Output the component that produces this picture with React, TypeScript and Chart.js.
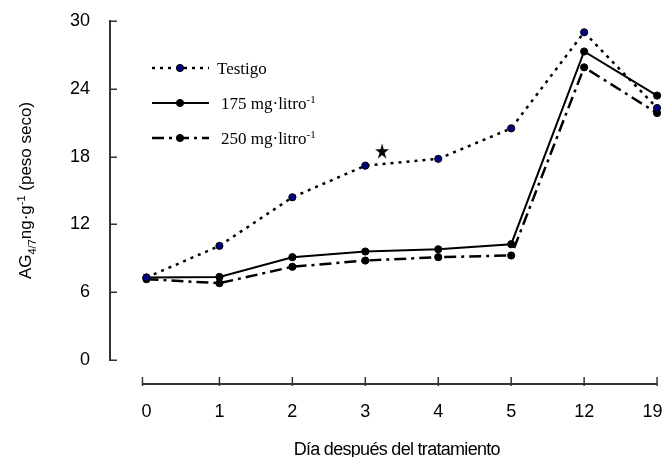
import { useEffect, useRef } from "react";
import { Chart, registerables } from "chart.js";

Chart.register(...registerables);

// ---- data ----
const dayLabels = ["0", "1", "2", "3", "4", "5", "12", "19"];
const testigo = [7.3, 10.1, 14.4, 17.2, 17.8, 20.5, 29.0, 22.3];
const dose175 = [7.3, 7.35, 9.1, 9.6, 9.8, 10.25, 27.3, 23.4];
const dose250 = [7.15, 6.8, 8.25, 8.8, 9.1, 9.25, 25.9, 21.85];
const starDay = 3.23;
const starValue = 18.5;
const yTickValues = [0, 6, 12, 18, 24, 30];
const seriesNames = ["Testigo", "175 mg·litro", "250 mg·litro"];
const seriesSup = ["", "-1", "-1"];
const xTitle = "Día después del tratamiento";

const SANS = "'Liberation Sans', Arial, Helvetica, sans-serif";
const SERIF = "'Liberation Serif', 'Times New Roman', serif";

const dashTestigo = [3, 5];
const dash250 = [12, 5, 3, 5];

function makeStar(): HTMLCanvasElement {
  const c = document.createElement("canvas");
  c.width = 18;
  c.height = 18;
  const g = c.getContext("2d")!;
  g.fillStyle = "#000";
  g.beginPath();
  for (let i = 0; i < 10; i++) {
    const r = i % 2 === 0 ? 8.5 : 3.2;
    const a = -Math.PI / 2 + (i * Math.PI) / 5;
    const px = 9 + r * Math.cos(a) * 0.85;
    const py = 9.8 + r * Math.sin(a);
    if (i === 0) g.moveTo(px, py);
    else g.lineTo(px, py);
  }
  g.closePath();
  g.fill();
  return c;
}

const toPoints = (vals: number[]) => vals.map((v, i) => ({ x: i, y: v }));

function drawSupText(
  ctx: CanvasRenderingContext2D,
  x: number,
  y: number,
  parts: { t: string; k: "n" | "sub" | "sup" }[],
  font: string,
  size: number,
  measureOnly = false
): number {
  let w = 0;
  for (const p of parts) {
    const s = p.k === "n" ? size : Math.round(size * 0.65);
    ctx.font = `${s}px ${font}`;
    const dy = p.k === "sub" ? size * 0.28 : p.k === "sup" ? -size * 0.38 : 0;
    if (!measureOnly) ctx.fillText(p.t, x + w, y + dy);
    w += ctx.measureText(p.t).width;
  }
  return w;
}

const decorPlugin = {
  id: "decor",
  beforeDatasetsDraw(chart: any) {
    const { ctx, chartArea, scales } = chart;
    const xs = scales.x;
    const ys = scales.y;
    ctx.save();
    ctx.strokeStyle = "#333";
    // y axis
    const yTop = ys.getPixelForValue(yTickValues[yTickValues.length - 1]);
    const yBot = ys.getPixelForValue(yTickValues[0]);
    const ax = chartArea.left;
    ctx.lineWidth = 2;
    ctx.beginPath();
    ctx.moveTo(ax, yTop - 1);
    ctx.lineTo(ax, yBot + 1);
    ctx.stroke();
    ctx.lineWidth = 1.5;
    for (const v of yTickValues) {
      const py = Math.round(ys.getPixelForValue(v)) + 0.25;
      ctx.beginPath();
      ctx.moveTo(ax, py);
      ctx.lineTo(ax + 7, py);
      ctx.stroke();
    }
    // x axis (separate, below the plot)
    const xy = yBot + 24;
    const x0 = xs.getPixelForValue(0) - 4;
    const x1 = xs.getPixelForValue(dayLabels.length - 1);
    ctx.lineWidth = 2;
    ctx.beginPath();
    ctx.moveTo(x0, xy);
    ctx.lineTo(x1, xy);
    ctx.stroke();
    ctx.lineWidth = 1.5;
    dayLabels.forEach((_, i) => {
      const px = i === 0 ? x0 : xs.getPixelForValue(i);
      ctx.beginPath();
      ctx.moveTo(px, xy - 7);
      ctx.lineTo(px, xy + 2);
      ctx.stroke();
    });
    ctx.restore();
  },
  afterDraw(chart: any) {
    const { ctx, chartArea, scales } = chart;
    const xs = scales.x;
    const ys = scales.y;
    ctx.save();
    ctx.fillStyle = "#000";
    ctx.textBaseline = "alphabetic";

    // x title
    ctx.font = `18px ${SANS}`;
    (ctx as any).letterSpacing = "-0.7px";
    ctx.textAlign = "center";
    const midX =
      (xs.getPixelForValue(0) - 4 + xs.getPixelForValue(dayLabels.length - 1)) / 2 - 3;
    ctx.fillText(xTitle, midX, ys.getPixelForValue(0) + 95);
    (ctx as any).letterSpacing = "0px";

    // y title (rotated, with sub/superscripts)
    const yParts: { t: string; k: "n" | "sub" | "sup" }[] = [
      { t: "AG", k: "n" },
      { t: "4/7", k: "sub" },
      { t: "ng·g", k: "n" },
      { t: "-1", k: "sup" },
      { t: " (peso seco)", k: "n" },
    ];
    ctx.textAlign = "left";
    const tw = drawSupText(ctx, 0, 0, yParts, SANS, 17, true);
    const cy = (chartArea.top + ys.getPixelForValue(0)) / 2;
    ctx.translate(31, cy);
    ctx.rotate(-Math.PI / 2);
    drawSupText(ctx, -tw / 2, 0, yParts, SANS, 17);
    ctx.setTransform(1, 0, 0, 1, 0, 0);

    // legend
    const lx1 = chartArea.left + 42;
    const lx2 = chartArea.left + 99;
    const mx = chartArea.left + 70;
    const rows = [68, 103, 138];
    const styles = [
      { dash: dashTestigo, w: 2.5, fill: "#000080" },
      { dash: [] as number[], w: 2, fill: "#000" },
      { dash: dash250, w: 2.5, fill: "#000" },
    ];
    rows.forEach((ry, i) => {
      const st = styles[i];
      ctx.strokeStyle = "#000";
      ctx.lineWidth = st.w;
      ctx.setLineDash(st.dash);
      ctx.beginPath();
      ctx.moveTo(lx1, ry);
      ctx.lineTo(lx2, ry);
      ctx.stroke();
      ctx.setLineDash([]);
      ctx.lineWidth = 1;
      ctx.fillStyle = st.fill;
      ctx.beginPath();
      ctx.arc(mx, ry, 3.6, 0, Math.PI * 2);
      ctx.fill();
      ctx.stroke();
      ctx.fillStyle = "#000";
      const parts: { t: string; k: "n" | "sub" | "sup" }[] = [{ t: seriesNames[i], k: "n" }];
      if (seriesSup[i]) parts.push({ t: seriesSup[i], k: "sup" });
      drawSupText(ctx, i === 0 ? lx1 + 65 : lx1 + 69, ry + 6, parts, SERIF, 17);
    });
    ctx.restore();
  },
};

export default function App() {
  const ref = useRef<HTMLCanvasElement | null>(null);

  useEffect(() => {
    document.body.style.margin = "0";
    const canvas = ref.current;
    if (!canvas) return;
    const star = makeStar();
    const chart = new Chart(canvas, {
      type: "line",
      data: {
        datasets: [
          {
            label: seriesNames[0],
            data: toPoints(testigo),
            borderColor: "#000",
            borderWidth: 2.5,
            borderDash: dashTestigo,
            pointBackgroundColor: "#000080",
            pointBorderColor: "#000",
            pointBorderWidth: 1,
            pointRadius: 3.6,
            tension: 0,
            clip: false,
          } as any,
          {
            label: seriesNames[1],
            data: toPoints(dose175),
            borderColor: "#000",
            borderWidth: 2,
            pointBackgroundColor: "#000",
            pointBorderColor: "#000",
            pointBorderWidth: 1,
            pointRadius: 3.6,
            tension: 0,
            clip: false,
          } as any,
          {
            label: seriesNames[2],
            data: toPoints(dose250),
            borderColor: "#000",
            borderWidth: 2.5,
            borderDash: dash250,
            pointBackgroundColor: "#000",
            pointBorderColor: "#000",
            pointBorderWidth: 1,
            pointRadius: 3.6,
            tension: 0,
            clip: false,
          } as any,
          {
            label: "significance",
            data: [{ x: starDay, y: starValue }],
            showLine: false,
            pointStyle: star as any,
            pointRadius: 9,
            clip: false,
          } as any,
        ],
      },
      options: {
        animation: false,
        responsive: false,
        devicePixelRatio: 1,
        events: [],
        layout: { padding: { top: 21, right: 2, bottom: 0, left: 0 } },
        plugins: {
          legend: { display: false },
          tooltip: { enabled: false },
        },
        scales: {
          x: {
            type: "linear",
            min: -0.5,
            max: 7.04,
            grid: { display: false, drawTicks: false },
            border: { display: false },
            afterBuildTicks: (s: any) => {
              s.ticks = dayLabels.map((_, i) => ({ value: i }));
            },
            afterFit: (s: any) => {
              s.height = 97;
              s.paddingLeft = 0;
              s.paddingRight = 0;
              s.paddingTop = 0;
              s.paddingBottom = 0;
            },
            ticks: {
              autoSkip: false,
              maxRotation: 0,
              padding: 41,
              color: "#000",
              font: { family: SANS, size: 18 },
              callback: (v: any) => {
                const i = Math.round(Number(v));
                const s = dayLabels[i] ?? "";
                return i === dayLabels.length - 1 ? s + "\u2002" : s;
              },
            },
          },
          y: {
            min: 0,
            max: 30,
            grid: { display: false, drawTicks: false },
            border: { display: false },
            afterBuildTicks: (s: any) => {
              s.ticks = yTickValues.map((v) => ({ value: v }));
            },
            afterFit: (s: any) => {
              s.width = 110;
              s.paddingTop = 0;
              s.paddingBottom = 0;
              s.paddingLeft = 0;
              s.paddingRight = 0;
            },
            ticks: {
              padding: 20,
              color: "#000",
              font: { family: SANS, size: 18 },
            },
          },
        },
      },
      plugins: [decorPlugin],
    });
    return () => chart.destroy();
  }, []);

  return (
    <div style={{ width: 670, height: 457, background: "#fff" }}>
      <canvas ref={ref} width={670} height={457} />
    </div>
  );
}
